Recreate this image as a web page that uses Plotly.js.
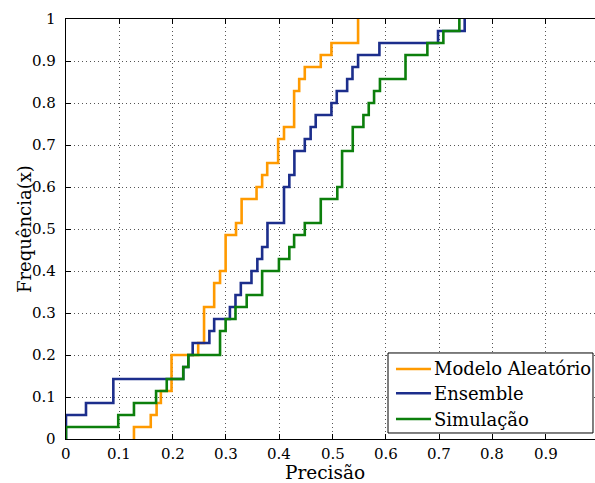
<!DOCTYPE html>
<html>
<head>
<meta charset="utf-8">
<script src="https://cdn.plot.ly/plotly-3.0.1.min.js"></script>
<style>
html,body{margin:0;padding:0;background:#fff;}
#chart{width:595px;height:483px;}
</style>
</head>
<body>
<div id="chart"></div>
<script>
// Sample precision values (35 per series), read from the empirical CDF steps
const modeloAleatorio = [0.1275, 0.159, 0.170, 0.178, 0.198, 0.198, 0.198, 0.248, 0.259, 0.259, 0.259,
  0.278, 0.278, 0.289, 0.2995, 0.2995, 0.2995, 0.319, 0.3295, 0.3295, 0.3575, 0.368, 0.3775,
  0.398, 0.398, 0.409, 0.428, 0.428, 0.428, 0.4375, 0.448, 0.478, 0.498, 0.548, 0.548];
const ensemble = [0, 0, 0.0375, 0.0888, 0.0888, 0.22, 0.2295, 0.2377, 0.269, 0.278, 0.3075, 0.318,
  0.328, 0.348, 0.359, 0.368, 0.378, 0.378, 0.409, 0.409, 0.409, 0.419, 0.4285, 0.4285, 0.448,
  0.459, 0.4685, 0.498, 0.508, 0.5275, 0.5375, 0.548, 0.588, 0.698, 0.748];
const simulacao = [0, 0.098, 0.1275, 0.169, 0.189, 0.22, 0.2295, 0.289, 0.289, 0.2995, 0.318, 0.339,
  0.368, 0.368, 0.3995, 0.419, 0.428, 0.448, 0.478, 0.478, 0.509, 0.518, 0.518, 0.518, 0.538,
  0.538, 0.558, 0.568, 0.578, 0.589, 0.637, 0.637, 0.678, 0.708, 0.738];

const seriesNames = ['Modelo Aleatório', 'Ensemble', 'Simulação'];
const seriesColors = ['#FF9A00', '#1C2E8C', '#0C7F0C'];
const xTicks = [0, 0.1, 0.2, 0.3, 0.4, 0.5, 0.6, 0.7, 0.8, 0.9];
const yTicks = [0, 0.1, 0.2, 0.3, 0.4, 0.5, 0.6, 0.7, 0.8, 0.9, 1];
const xTitle = 'Precisão';
const yTitle = 'Frequência(x)';

function ecdf(samples) {
  const s = samples.slice().sort((a, b) => a - b);
  const n = s.length;
  const xs = [s[0]], ys = [0];
  for (let i = 0; i < n; i++) {
    if (i === n - 1 || s[i + 1] !== s[i]) {
      xs.push(s[i]);
      ys.push((i + 1) / n);
    }
  }
  return {x: xs, y: ys};
}

const traces = [modeloAleatorio, ensemble, simulacao].map((d, k) => {
  const e = ecdf(d);
  return {
    x: e.x, y: e.y, type: 'scatter', mode: 'lines',
    line: {shape: 'hv', color: seriesColors[k], width: 2.6},
    name: seriesNames[k], showlegend: false
  };
});

const FF = 'DejaVu Serif';
const annotations = [];
xTicks.forEach(v => annotations.push({
  x: v, xref: 'x', y: 0, yref: 'paper', yanchor: 'middle', xanchor: 'center', yshift: -15,
  showarrow: false, text: String(v), font: {family: FF, size: 15}
}));
yTicks.forEach(v => annotations.push({
  x: 0, xref: 'paper', y: v, yref: 'y', xanchor: 'right', yanchor: 'middle', xshift: -8,
  showarrow: false, text: String(v), font: {family: FF, size: 15}
}));
annotations.push({
  x: 0.4896, xref: 'paper', y: 0, yref: 'paper', yanchor: 'middle', xanchor: 'center', yshift: -33,
  showarrow: false, text: xTitle, font: {family: FF, size: 18.5}
});
annotations.push({
  x: 0, xref: 'paper', y: 0.5, yref: 'paper', xanchor: 'center', yanchor: 'middle', xshift: -42,
  textangle: -90, showarrow: false, text: yTitle, font: {family: FF, size: 18}
});

const shapes = [{
  type: 'rect', xref: 'paper', yref: 'paper', x0: 0.6087, x1: 0.9962, y0: 0.0143, y1: 0.2048,
  line: {color: '#000', width: 1}, fillcolor: '#fff', layer: 'above'
}];
const legendRows = [0.1667, 0.1088, 0.0476];
seriesNames.forEach((name, k) => {
  shapes.push({
    type: 'line', xref: 'paper', yref: 'paper', x0: 0.6238, x1: 0.69, y0: legendRows[k], y1: legendRows[k],
    line: {color: seriesColors[k], width: 2.6}, layer: 'above'
  });
  annotations.push({
    x: 0.6919, xref: 'paper', y: legendRows[k], yref: 'paper', xanchor: 'left', yanchor: 'middle',
    showarrow: false, text: name, font: {family: FF, size: 18}
  });
});

const layout = {
  width: 595, height: 483,
  margin: {l: 66, r: 0, t: 19, b: 44},
  paper_bgcolor: '#fff', plot_bgcolor: '#fff',
  font: {family: FF, size: 15, color: '#000'},
  showlegend: false,
  annotations: annotations,
  shapes: shapes,
  xaxis: {
    range: [0, 0.9925], tickvals: xTicks, showticklabels: false,
    ticks: 'inside', ticklen: 5, tickcolor: '#000', tickwidth: 1,
    showline: true, linecolor: '#000', linewidth: 1, mirror: 'ticks',
    showgrid: true, gridcolor: '#555', griddash: '1px,3px', gridwidth: 1,
    zeroline: false
  },
  yaxis: {
    range: [0, 1], tickvals: yTicks, showticklabels: false,
    ticks: 'inside', ticklen: 5, tickcolor: '#000', tickwidth: 1,
    showline: true, linecolor: '#000', linewidth: 1,
    showgrid: true, gridcolor: '#555', griddash: '1px,3px', gridwidth: 1,
    zeroline: false
  }
};

Plotly.newPlot('chart', traces, layout, {displayModeBar: false, staticPlot: true});
</script>
</body>
</html>
